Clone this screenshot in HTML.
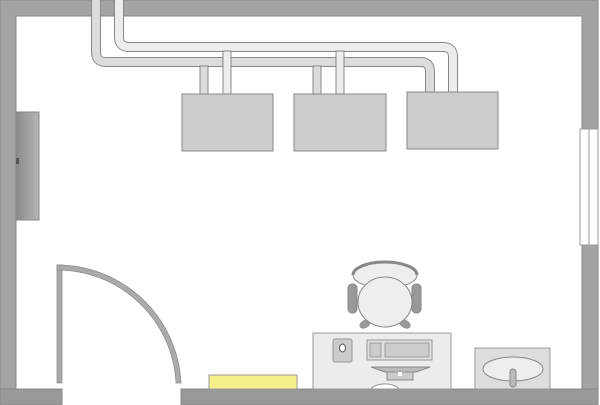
<!DOCTYPE html>
<html><head><style>html,body{margin:0;padding:0;background:#fff}svg{display:block}</style></head><body>
<svg width="600" height="405" viewBox="0 0 600 405" xmlns="http://www.w3.org/2000/svg">
<!-- walls -->
<path d="M0,0 H598 V389 H582 V16 H16 V389 H0 Z" fill="#a3a3a3" stroke="#888" stroke-width="1"/>
<rect x="0" y="389" width="62" height="16" fill="#999" stroke="#888"/>
<rect x="181" y="389" width="417" height="16" fill="#999" stroke="#888"/>
<!-- window right -->
<rect x="580" y="129" width="18" height="116" fill="#fff" stroke="#999"/>
<line x1="589" y1="129" x2="589" y2="245" stroke="#999"/>
<!-- left wall element -->
<defs><linearGradient id="g" x1="0" x2="1"><stop offset="0" stop-color="#8a8a8a"/><stop offset="1" stop-color="#b5b5b5"/></linearGradient></defs>
<rect x="16" y="112" width="23" height="108" fill="url(#g)" stroke="#888"/>
<rect x="16" y="158" width="3" height="6" fill="#555"/>
<!-- pipes A (darker) -->
<g fill="none" stroke-linejoin="round">
<path d="M96,0 V52 Q96,62 106,62 H421 Q430,62 430,72 V93" stroke="#888" stroke-width="10"/>
<path d="M96,0 V52 Q96,62 106,62 H421 Q430,62 430,72 V93" stroke="#dcdcdc" stroke-width="8"/>
<path d="M119,0 V37 Q119,47 129,47 H443 Q453,47 453,57 V93" stroke="#888" stroke-width="10"/>
<path d="M119,0 V37 Q119,47 129,47 H443 Q453,47 453,57 V93" stroke="#ededed" stroke-width="8"/>
</g>
<!-- drops -->
<g stroke="#888" stroke-width="1">
<rect x="200" y="66" width="8" height="28" fill="#dcdcdc"/>
<rect x="223" y="51" width="8" height="43" fill="#ededed"/>
<rect x="313" y="66" width="8" height="28" fill="#dcdcdc"/>
<rect x="336" y="51" width="8" height="43" fill="#ededed"/>
</g>
<!-- boxes -->
<g fill="#cbcccb" stroke="#888">
<rect x="182" y="94" width="91" height="57"/>
<rect x="294" y="94" width="92" height="57"/>
<rect x="407" y="92" width="91" height="57"/>
</g>
<!-- door -->
<rect x="57" y="265" width="5" height="118" fill="#aaa" stroke="#888" stroke-width="0.7"/>
<path d="M57,265 A124,124 0 0 1 181,383 L176,383 A119,119 0 0 0 57,270 Z" fill="#aaa" stroke="#888" stroke-width="0.7"/>
<!-- yellow -->
<rect x="209" y="375" width="88" height="14" fill="#f7ef8a" stroke="#999"/>
<!-- chair -->
<ellipse cx="385" cy="275" rx="32" ry="13" fill="#eee" stroke="#888"/>
<path d="M353,275 A32,13 0 0 1 417,275" fill="none" stroke="#888" stroke-width="3"/>
<ellipse cx="365" cy="324" rx="6" ry="4" fill="#999" transform="rotate(-30 365 324)"/>
<ellipse cx="405" cy="324" rx="6" ry="4" fill="#999" transform="rotate(30 405 324)"/>
<ellipse cx="385" cy="302" rx="27" ry="25" fill="#eee" stroke="#888"/>
<rect x="348" y="284" width="9" height="29" rx="4" fill="#999" stroke="#888"/>
<rect x="412" y="284" width="9" height="29" rx="4" fill="#999" stroke="#888"/>
<!-- desk -->
<rect x="313" y="333" width="138" height="56" fill="#ececec" stroke="#999"/>
<rect x="333" y="339" width="19" height="23" rx="2" fill="#ccc" stroke="#999"/>
<ellipse cx="342.5" cy="348" rx="3" ry="4" fill="#fff" stroke="#555"/>
<rect x="367" y="340" width="65" height="20" fill="#e0e0e0" stroke="#999"/>
<rect x="370" y="343" width="11" height="14" fill="#ccc" stroke="#888" stroke-width="0.7"/>
<rect x="385" y="343" width="44" height="14" fill="#ccc" stroke="#888" stroke-width="0.7"/>
<path d="M371,367 H430 L416,372 H385 Z" fill="#bbb" stroke="#888"/>
<rect x="387" y="372" width="26" height="8" fill="#ccc" stroke="#888"/>
<rect x="398" y="372" width="4" height="4" fill="#fff"/>
<path d="M371,389 A15,8 0 0 1 399,389 Z" fill="#fff" stroke="#999"/>
<!-- sink -->
<rect x="475" y="348" width="75" height="41" fill="#ddd" stroke="#999"/>
<ellipse cx="513" cy="369" rx="30" ry="12" fill="#eee" stroke="#888"/>
<rect x="510" y="369" width="6" height="18" rx="3" fill="#bbb" stroke="#888"/>
</svg>
</body></html>
